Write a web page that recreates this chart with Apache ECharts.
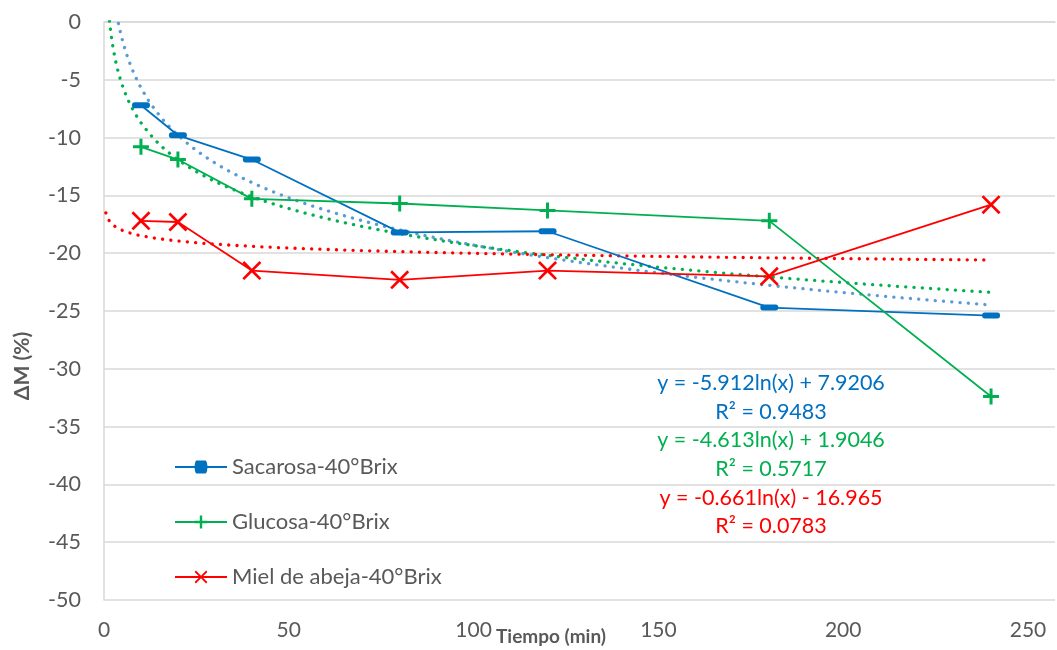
<!DOCTYPE html>
<html>
<head>
<meta charset="utf-8" />
<title>ΔM vs Tiempo</title>
<script src="https://cdn.jsdelivr.net/npm/echarts@6.0.0/dist/echarts.min.js"></script>
<style>
  html, body { margin: 0; padding: 0; background: #fff; }
  #main { width: 1057px; height: 650px; }
</style>
</head>
<body>
<div id="main"></div>
<script type="text/javascript">
// tiempos de muestreo (min)
var tiempos = [10, 20, 40, 80, 120, 180, 240];
// ΔM (%)
var sacarosa = [-7.2, -9.8, -11.9, -18.2, -18.1, -24.7, -25.4];
var glucosa = [-10.8, -11.9, -15.3, -15.7, -16.3, -17.2, -32.4];
var miel = [-17.2, -17.3, -21.5, -22.3, -21.5, -22.0, -15.8];
var nombres = ['Sacarosa-40°Brix', 'Glucosa-40°Brix', 'Miel de abeja-40°Brix'];
// coeficientes de las líneas de tendencia logarítmicas (y = a ln(x) + b)
var tendA = [-5.912, -4.613, -0.661];
var tendB = [7.9206, 1.9046, -16.965];
var ecuaciones = [
  'y = -5.912ln(x) + 7.9206', 'R² = 0.9483',
  'y = -4.613ln(x) + 1.9046', 'R² = 0.5717',
  'y = -0.661ln(x) - 16.965', 'R² = 0.0783'
];

var colores = ['#0070C0', '#00B050', '#FF0000'];
var coloresTend = ['#5B9BD5', '#00B050', '#FF0000'];
var simbolos = [
  'path://M2,0H16A2,2 0 0 1 16,6H2A2,2 0 0 1 2,0Z',
  'path://M6.5,0h3v6.5h6.5v3h-6.5v6.5h-3v-6.5h-6.5v-3h6.5z',
  'path://M0,2L2,0L10,8L18,0L20,2L12,10L20,18L18,20L10,12L2,20L0,18L8,10Z'
];
var tamSimbolos = [[18, 6], [16, 16], [19, 19]];

var FONT = 'Lato';
var series = [];
var datos = [sacarosa, glucosa, miel];

// muestras de x para las tendencias (desde 0.5, pronóstico hacia atrás)
var xs = [];
for (var x = 0.5; x < 10; x += 0.25) xs.push(x);
for (var x2 = 10; x2 <= 240; x2 += 2) xs.push(x2);

datos.forEach(function (d, i) {
  var tend = xs.map(function (x) { return [x, tendA[i] * Math.log(x) + tendB[i]]; });
  series.push({
    name: nombres[i] + ' tendencia',
    type: 'line',
    data: tend,
    showSymbol: false,
    silent: true,
    z: 1,
    clip: true,
    lineStyle: { color: coloresTend[i], width: 3.3, type: [0.1, 8.2], cap: 'round' }
  });
});

datos.forEach(function (d, i) {
  series.push({
    name: nombres[i],
    type: 'line',
    data: tiempos.map(function (t, k) { return [t, d[k]]; }),
    symbol: simbolos[i],
    symbolSize: tamSimbolos[i],
    z: 3,
    itemStyle: { color: colores[i] },
    lineStyle: { color: colores[i], width: 1.8 }
  });
});

var chart = echarts.init(document.getElementById('main'));
chart.setOption({
  animation: false,
  grid: { left: 104, right: 2, top: 22, bottom: 50 },
  legend: {
    data: nombres,
    orient: 'vertical',
    left: 169,
    top: 451,
    itemWidth: 52,
    itemHeight: 16,
    itemGap: 33,
    textStyle: { fontFamily: FONT, fontSize: 22, color: '#595959' }
  },
  xAxis: {
    type: 'value',
    min: 0,
    max: 257.3,
    interval: 50,
    axisLine: { show: true, lineStyle: { color: '#D9D9D9', width: 1.5 } },
    axisTick: { show: false },
    splitLine: { show: false },
    axisLabel: {
      fontFamily: FONT, fontSize: 21, color: '#595959', margin: 20,
      showMaxLabel: false
    }
  },
  yAxis: {
    type: 'value',
    min: -50,
    max: 0,
    interval: 5,
    axisLine: { show: true, lineStyle: { color: '#D9D9D9', width: 1.5 } },
    axisTick: { show: false },
    splitLine: { lineStyle: { color: '#D9D9D9', width: 1.5 } },
    axisLabel: { fontFamily: FONT, fontSize: 21.5, color: '#595959', margin: 23 }
  },
  graphic: [
    {
      type: 'text', x: 551, y: 637,
      style: {
        text: 'Tiempo (min)', fontFamily: FONT, fontSize: 19, fontWeight: 'bold',
        fill: '#595959', align: 'center', verticalAlign: 'middle'
      }
    },
    {
      type: 'text', x: 22, y: 366, rotation: Math.PI / 2,
      style: {
        text: 'ΔM (%)', fontFamily: FONT, fontSize: 21, fontWeight: 'bold',
        fill: '#595959', align: 'center', verticalAlign: 'middle'
      }
    }
  ].concat(ecuaciones.map(function (t, k) {
    return {
      type: 'text', x: 771, y: 383 + k * 28.7, z: 10,
      style: {
        text: t, fontFamily: FONT, fontSize: 21.5, fill: colores[Math.floor(k / 2)],
        align: 'center', verticalAlign: 'middle'
      }
    };
  })),
  series: series
});
</script>
</body>
</html>
